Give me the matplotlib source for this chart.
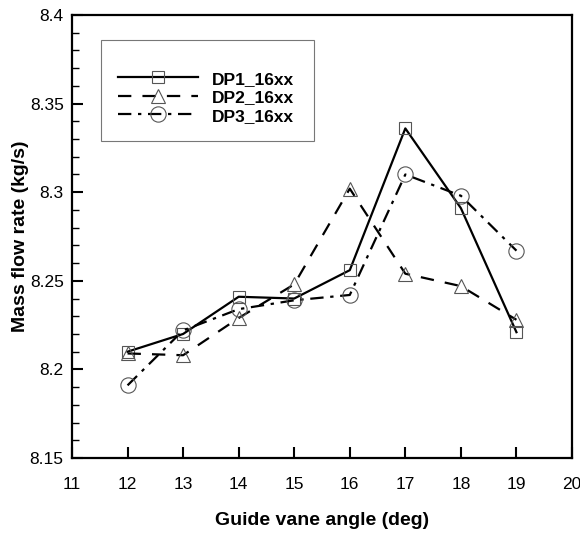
import matplotlib
matplotlib.use("Agg")
import matplotlib.pyplot as plt
from matplotlib.ticker import MultipleLocator
from matplotlib.patches import Rectangle

angles = [12, 13, 14, 15, 16, 17, 18, 19]
dp1 = [8.210, 8.220, 8.241, 8.240, 8.256, 8.336, 8.291, 8.221]
dp2 = [8.209, 8.208, 8.229, 8.248, 8.302, 8.254, 8.247, 8.228]
dp3 = [8.191, 8.222, 8.234, 8.239, 8.242, 8.310, 8.298, 8.267]
labels = ["DP1_16xx", "DP2_16xx", "DP3_16xx"]

plt.rcParams['font.family'] = ['Liberation Sans', 'DejaVu Sans']

fig = plt.figure(figsize=(5.8, 5.35), dpi=100)
ax = fig.add_axes([72/580, 1-458/535, 500/580, 443/535])

mk = dict(markerfacecolor='none', markeredgecolor='#555555', markeredgewidth=0.8, color='black', linewidth=1.6)
ax.plot(angles, dp1, '-', marker='s', markersize=8.5, label=labels[0], **mk)
ax.plot(angles, dp2, marker='^', markersize=9.5, label=labels[1], dashes=(6, 5), **mk)
ax.plot(angles, dp3, marker='o', markersize=11, label=labels[2], dashes=(6, 3, 1.5, 3), **mk)

ax.set_xlim(11, 20)
ax.set_ylim(8.15, 8.4)
ax.yaxis.set_minor_locator(MultipleLocator(0.01))
ax.set_yticks([8.15, 8.2, 8.25, 8.3, 8.35, 8.4])
ax.set_yticklabels(["8.15", "8.2", "8.25", "8.3", "8.35", "8.4"])
ax.set_xticks(range(11, 21))
ax.set_xticklabels([str(v) for v in range(11, 21)])
ax.tick_params(which='both', direction='in', top=False, right=False, labelsize=12.5, width=1.5)
ax.tick_params(which='major', length=8)
ax.tick_params(which='minor', length=5, width=1)
ax.tick_params(axis='x', pad=14)
ax.tick_params(axis='y', pad=6)
for s in ax.spines.values():
    s.set_linewidth(1.6)

ax.set_xlabel("Guide vane angle (deg)", fontsize=14, fontweight='bold', labelpad=14)
ax.set_ylabel("Mass flow rate (kg/s)", fontsize=14, fontweight='bold')
ax.yaxis.set_label_coords(-(72-29)/500, 0.5)

# legend frame
ax.add_patch(Rectangle(((101-72)/500, (458-141)/443), 213/500, 101/443,
                       transform=ax.transAxes, facecolor='white', edgecolor='#777777',
                       linewidth=0.8, zorder=4))
leg = ax.legend(loc='center left', bbox_to_anchor=((118-72)/500, (458-97)/443),
                prop={'weight': 'bold', 'size': 12.5}, frameon=False,
                handlelength=4.6, handleheight=1.0, borderpad=0, labelspacing=0.1,
                handletextpad=0.8, borderaxespad=0)
leg.set_zorder(5)

fig.savefig("out.png", dpi=100, facecolor='white')
